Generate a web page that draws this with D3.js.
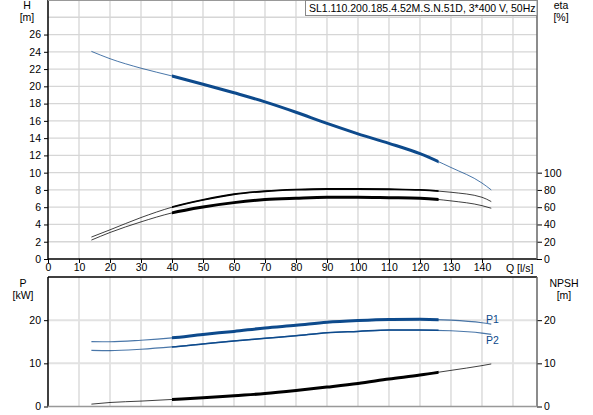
<!DOCTYPE html>
<html>
<head>
<meta charset="utf-8">
<script src="https://cdn.jsdelivr.net/npm/d3@7"></script>
<style>
body { margin: 0; background: #fff; }
svg { font-family: "Liberation Sans", Arial, sans-serif; font-size: 10.5px; }
.grid line { stroke: #d6d6d6; stroke-width: 1.3; }
.axis text { font-size: 10.5px; fill: #000; font-family: "Liberation Sans", Arial, sans-serif; }
.axis path { display: none; }
.axis line { stroke: #000; }
</style>
</head>
<body>
<div id="chart"></div>
<script>
// flow points [l/s]
var qVals = [14, 20, 30, 40, 50, 60, 70, 80, 90, 100, 110, 120, 130, 140, 143];
// head [m]
var hVals = [24.05, 23.2, 22.1, 21.2, 20.25, 19.25, 18.2, 17.0, 15.7, 14.5, 13.4, 12.2, 10.6, 8.8, 8.0];
// efficiencies [%]
var etaUpper = [25.4, 33.8, 48, 60, 68.4, 75, 78.5, 80.3, 81.1, 81.1, 80.8, 80, 77.3, 71.5, 66.5];
var etaLower = [21.9, 30.7, 43, 53.4, 60.3, 65.3, 68.8, 70.4, 71.5, 71.5, 71, 70.4, 67.3, 61.8, 58.8];
// power [kW]
var p1Vals = [15.05, 15.0, 15.35, 15.9, 16.7, 17.4, 18.2, 18.8, 19.5, 19.9, 20.15, 20.2, 20.0, 19.4, 19.1];
var p2Vals = [13.0, 12.95, 13.26, 13.8, 14.5, 15.2, 15.8, 16.4, 17.1, 17.4, 17.7, 17.7, 17.55, 17.0, 16.7];
// NPSH [m]
var npshVals = [0.55, 0.93, 1.25, 1.63, 2.0, 2.5, 3.0, 3.7, 4.5, 5.35, 6.37, 7.3, 8.37, 9.47, 9.86];

var qTicks = d3.range(0, 141, 10),
	hTicks = d3.range(0, 27, 2),
	etaTicks = d3.range(0, 101, 20),
	pTicks = [0, 10, 20],
	dutyRange = [40, 126],
	title = "SL1.110.200.185.4.52M.S.N.51D, 3*400 V, 50Hz";

var width = 593,
	height = 415,
	blue = "#0d4a8c";

var svg = d3.select("#chart").append("svg")
	.attr("width", width)
	.attr("height", height);

var x = d3.scaleLinear().domain([0, 157.75]).range([48, 537]);
var yH = d3.scaleLinear().domain([0, 30]).range([259, 0]);
var yEta = d3.scaleLinear().domain([0, 300]).range([259, 0]);
var yP = d3.scaleLinear().domain([0, 30]).range([406.5, 277]);

svg.append("clipPath").attr("id", "duty")
	.append("rect")
	.attr("x", x(dutyRange[0]))
	.attr("y", 0)
	.attr("width", x(dutyRange[1]) - x(dutyRange[0]))
	.attr("height", height);

// grids
var gridTop = svg.append("g").attr("class", "grid");
gridTop.selectAll(".v").data(d3.range(10, 151, 10)).enter().append("line")
	.attr("x1", x).attr("x2", x)
	.attr("y1", yH(30)).attr("y2", yH(0));
gridTop.selectAll(".h").data(d3.range(2, 31, 2)).enter().append("line")
	.attr("x1", x(0)).attr("x2", x.range()[1])
	.attr("y1", yH).attr("y2", yH);

var gridBot = svg.append("g").attr("class", "grid");
gridBot.selectAll(".v").data(d3.range(10, 151, 10)).enter().append("line")
	.attr("x1", x).attr("x2", x)
	.attr("y1", yP(30)).attr("y2", yP(0));
gridBot.selectAll(".h").data([10, 20]).enter().append("line")
	.attr("x1", x(0)).attr("x2", x.range()[1])
	.attr("y1", yP).attr("y2", yP)
	.style("stroke", "#e2e2e2").style("stroke-width", 2);

// curves: thin over the whole range, thick inside the duty range
function drawCurve(vals, yScale, color, thin, thick, op) {
	var pts = qVals.map(function(q, i) { return [q, vals[i]]; });
	var line = d3.line()
		.x(function(d) { return x(d[0]); })
		.y(function(d) { return yScale(d[1]); })
		.curve(d3.curveMonotoneX);
	svg.append("path")
		.attr("d", line(pts))
		.attr("fill", "none")
		.attr("stroke", color)
		.attr("stroke-opacity", op || 0.75)
		.attr("stroke-width", thin);
	svg.append("path")
		.attr("d", line(pts))
		.attr("fill", "none")
		.attr("stroke", color)
		.attr("stroke-width", thick)
		.attr("clip-path", "url(#duty)");
}

drawCurve(hVals, yH, blue, 1, 3);
drawCurve(etaUpper, yEta, "#000", 1, 1.8);
drawCurve(etaLower, yEta, "#000", 1, 3);
drawCurve(p1Vals, yP, blue, 1.2, 3);
drawCurve(p2Vals, yP, blue, 1.2, 1.5);
drawCurve(npshVals, yP, "#000", 1, 3);

// axes, top chart
svg.append("g").attr("class", "axis")
	.attr("transform", "translate(" + x(0) + ",0)")
	.call(d3.axisLeft(yH).tickValues(hTicks).tickSize(4).tickPadding(3));
svg.append("g").attr("class", "axis")
	.attr("transform", "translate(" + x.range()[1] + ",0)")
	.call(d3.axisRight(yEta).tickValues(etaTicks).tickSize(5).tickPadding(2));
svg.append("g").attr("class", "axis")
	.attr("transform", "translate(0," + yH(0) + ")")
	.call(d3.axisBottom(x).tickValues(qTicks).tickSize(4).tickPadding(1));

// axes, bottom chart
svg.append("g").attr("class", "axis")
	.attr("transform", "translate(" + x(0) + ",0)")
	.call(d3.axisLeft(yP).tickValues(pTicks).tickSize(4).tickPadding(3));
svg.append("g").attr("class", "axis")
	.attr("transform", "translate(" + x.range()[1] + ",0)")
	.call(d3.axisRight(yP).tickValues(pTicks).tickSize(5).tickPadding(2));

// frame lines
var frame = svg.append("g").attr("fill", "none");
frame.append("line").attr("x1", x(0)).attr("x2", x(0)).attr("y1", 0).attr("y2", yH(0))
	.attr("stroke", "#000").attr("stroke-width", 1.5);
frame.append("line").attr("x1", x(0)).attr("x2", x.range()[1]).attr("y1", yH(0)).attr("y2", yH(0))
	.attr("stroke", "#000").attr("stroke-width", 1.5);
frame.append("line").attr("x1", x.range()[1]).attr("x2", x.range()[1]).attr("y1", 0).attr("y2", yH(0))
	.attr("stroke", "#666").attr("stroke-width", 1.5);
frame.append("line").attr("x1", x(0)).attr("x2", x.range()[1]).attr("y1", 0.5).attr("y2", 0.5)
	.attr("stroke", "#999").attr("stroke-width", 1);

frame.append("line").attr("x1", x(0)).attr("x2", x(0)).attr("y1", yP(30)).attr("y2", yP(0))
	.attr("stroke", "#000").attr("stroke-width", 1.5);
frame.append("line").attr("x1", x(0)).attr("x2", x.range()[1]).attr("y1", yP(30)).attr("y2", yP(30))
	.attr("stroke", "#000").attr("stroke-width", 1.5);
frame.append("line").attr("x1", x.range()[1]).attr("x2", x.range()[1]).attr("y1", yP(30)).attr("y2", yP(0))
	.attr("stroke", "#666").attr("stroke-width", 1.5);
frame.append("line").attr("x1", x(0)).attr("x2", x.range()[1]).attr("y1", yP(0)).attr("y2", yP(0))
	.attr("stroke", "#999").attr("stroke-width", 1.5);

// unit labels
var labels = [
	{ t: "H", x: 27, y: 5.5 }, { t: "[m]", x: 27, y: 17.5 },
	{ t: "eta", x: 561, y: 5.5 }, { t: "[%]", x: 561, y: 17.5 },
	{ t: "P", x: 23, y: 283 }, { t: "[kW]", x: 23, y: 295 },
	{ t: "NPSH", x: 564, y: 283 }, { t: "[m]", x: 564, y: 295 }
];
svg.selectAll(".unit").data(labels).enter().append("text")
	.attr("x", function(d) { return d.x; })
	.attr("y", function(d) { return d.y; })
	.attr("text-anchor", "middle")
	.attr("dy", "0.35em")
	.text(function(d) { return d.t; });

svg.append("text")
	.attr("x", 506).attr("y", yH(0) + 9.5)
	.attr("dy", "0.35em")
	.text("Q [l/s]");

// curve names
svg.append("text").attr("x", 486).attr("y", yP(p1Vals[14]) - 5).attr("dy", "0.35em")
	.attr("fill", blue).text("P1");
svg.append("text").attr("x", 486).attr("y", yP(p2Vals[14]) + 6).attr("dy", "0.35em")
	.attr("fill", blue).text("P2");

// title box
svg.append("rect")
	.attr("x", 305.5).attr("y", 0.5)
	.attr("width", x.range()[1] - 305.5).attr("height", 15)
	.attr("fill", "#fff").attr("stroke", "#888");
svg.append("text")
	.attr("x", 309).attr("y", 8)
	.attr("dy", "0.35em")
	.text(title);
</script>
</body>
</html>
